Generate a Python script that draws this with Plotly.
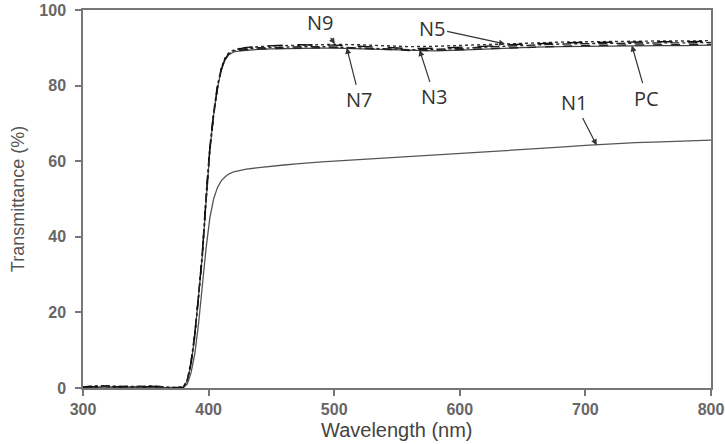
import plotly.graph_objects as go

wavelength = [300, 305, 310, 315, 320, 325, 330, 335, 340, 345, 350, 355, 360, 365, 370, 375, 380,
              383, 386, 389, 392, 395, 398, 401, 404, 407, 410, 413, 416, 420, 425, 430, 440, 450,
              460, 470, 480, 490, 500, 520, 540, 560, 580, 600, 620, 640, 660, 680, 700, 720, 740,
              760, 780, 800]

N1 = [0.1, 0.2, 0.1, 0.2, 0.3, 0.2, 0.1, 0.2, 0.3, 0.2, 0.1, 0.2, 0.2, 0.1, 0.1, 0.1, 0.2,
      1.0, 4.0, 9.0, 17.0, 27.0, 37.0, 45.0, 50.0, 53.0, 54.8, 55.8, 56.6, 57.2, 57.6, 57.9, 58.3, 58.7,
      59.0, 59.3, 59.6, 59.8, 60.0, 60.4, 60.8, 61.2, 61.6, 62.0, 62.4, 62.8, 63.2, 63.7, 64.2, 64.6, 64.9,
      65.1, 65.3, 65.6]

N3 = [0.2, 0.3, 0.5, 0.4, 0.6, 0.3, 0.2, 0.4, 0.3, 0.5, 0.2, 0.4, 0.3, 0.1, 0.1, 0.1, 0.3,
      2.0, 6.5, 14.0, 24.0, 35.0, 50.0, 63.0, 72.0, 79.0, 84.0, 86.8, 88.3, 89.0, 89.3, 89.5, 89.7, 89.8,
      89.9, 90.0, 90.0, 90.1, 90.1, 89.9, 89.5, 89.3, 89.3, 89.5, 89.8, 90.1, 90.3, 90.5, 90.6, 90.7, 90.7,
      90.8, 90.8, 90.9]

N5 = [0.1, 0.4, 0.6, 0.5, 0.3, 0.5, 0.4, 0.2, 0.5, 0.3, 0.4, 0.6, 0.4, 0.2, 0.1, 0.1, 0.2,
      1.8, 6.0, 13.5, 23.5, 34.5, 49.0, 62.5, 72.0, 79.5, 84.5, 87.3, 88.7, 89.4, 89.8, 90.0, 90.3, 90.5,
      90.6, 90.7, 90.8, 90.9, 90.9, 90.8, 90.5, 90.3, 90.4, 90.6, 90.9, 91.2, 91.4, 91.5, 91.6, 91.7, 91.7,
      91.8, 91.8, 91.9]

N7 = [0.3, 0.2, 0.4, 0.6, 0.4, 0.2, 0.5, 0.3, 0.2, 0.4, 0.5, 0.3, 0.5, 0.2, 0.1, 0.1, 0.3,
      2.2, 7.0, 14.5, 24.5, 36.0, 51.0, 64.0, 73.0, 80.0, 84.5, 87.0, 88.4, 89.2, 89.6, 89.8, 90.0, 90.1,
      90.2, 90.3, 90.3, 90.3, 90.2, 90.0, 89.7, 89.5, 89.6, 89.8, 90.2, 90.5, 90.8, 91.0, 91.1, 91.2, 91.2,
      91.3, 91.3, 91.4]

N9 = [0.2, 0.5, 0.3, 0.2, 0.5, 0.4, 0.3, 0.5, 0.4, 0.2, 0.3, 0.5, 0.2, 0.3, 0.1, 0.1, 0.2,
      2.0, 6.8, 14.2, 24.2, 35.5, 50.5, 63.5, 72.5, 79.5, 84.2, 87.0, 88.5, 89.3, 89.8, 90.1, 90.4, 90.6,
      90.7, 90.8, 90.8, 90.8, 90.7, 90.4, 90.0, 89.8, 89.9, 90.1, 90.4, 90.8, 91.1, 91.3, 91.4, 91.5, 91.5,
      91.6, 91.6, 91.7]

PC = [0.1, 0.3, 0.2, 0.4, 0.2, 0.4, 0.3, 0.2, 0.4, 0.3, 0.3, 0.2, 0.4, 0.1, 0.1, 0.1, 0.2,
      1.9, 6.2, 13.8, 23.8, 35.0, 49.5, 62.8, 72.2, 79.2, 84.0, 86.7, 88.2, 88.9, 89.2, 89.4, 89.6, 89.7,
      89.8, 89.8, 89.9, 89.9, 89.9, 89.7, 89.4, 89.2, 89.2, 89.4, 89.7, 90.0, 90.2, 90.3, 90.4, 90.5, 90.5,
      90.6, 90.6, 90.7]

series = [
    ("N1", N1, "#555555", "solid", 1.3),
    ("PC", PC, "#444444", "solid", 1.2),
    ("N3", N3, "#222222", "dash", 1.4),
    ("N5", N5, "#333333", "dot", 1.4),
    ("N7", N7, "#222222", "dashdot", 1.4),
    ("N9", N9, "#111111", "longdash", 1.4),
]

# label: (arrow head x, head y, text x, text y)
labels = [
    ("N9", 500.6, 91.0, 488.7, 96.6),
    ("N7", 510.0, 90.0, 520.5, 76.2),
    ("N3", 568.0, 89.4, 580.0, 77.0),
    ("N5", 636.0, 91.0, 578.0, 95.2),
    ("PC", 737.0, 90.6, 749.0, 76.7),
    ("N1", 709.0, 64.2, 691.7, 75.4),
]

fig = go.Figure()
for name, vals, color, dash, w in series:
    fig.add_trace(go.Scatter(x=wavelength, y=vals, mode="lines", name=name,
                             line=dict(color=color, dash=dash, width=w)))

for name, hx, hy, tx, ty in labels:
    fig.add_annotation(x=hx, y=hy, ax=tx, ay=ty, axref="x", ayref="y", xref="x", yref="y",
                       text=name, showarrow=True, arrowhead=2, arrowsize=1, arrowwidth=1.2,
                       arrowcolor="#333333",
                       font=dict(family="Open Sans", size=20, color="#333333"))

# x-axis title placed below the tick labels
fig.add_annotation(x=0.5, y=-0.1455, xref="paper", yref="paper", xanchor="center", yanchor="bottom",
                   text="Wavelength (nm)", showarrow=False,
                   font=dict(family="Arial", size=20, color="#444444"))

axis_common = dict(showline=True, linecolor="#777777", linewidth=1.5, mirror=True,
                   ticks="outside", ticklen=6, tickcolor="#777777", tickwidth=1.5,
                   showgrid=False, zeroline=False, automargin=False,
                   tickfont=dict(family="Arial", size=16, color="#666666", weight="bold"))

fig.update_xaxes(range=[300, 800], tickvals=[300, 400, 500, 600, 700, 800],
                 **axis_common)
fig.update_yaxes(range=[0, 100], tickvals=[0, 20, 40, 60, 80, 100],
                 ticklabelstandoff=6,
                 title=dict(text="Transmittance (%)", font=dict(family="Arial", size=18, color="#555555"),
                            standoff=10),
                 **axis_common)

fig.update_layout(width=725, height=444, margin=dict(l=83, r=14, t=10, b=56),
                  paper_bgcolor="white", plot_bgcolor="white", showlegend=False)

fig.write_html("out.html")
